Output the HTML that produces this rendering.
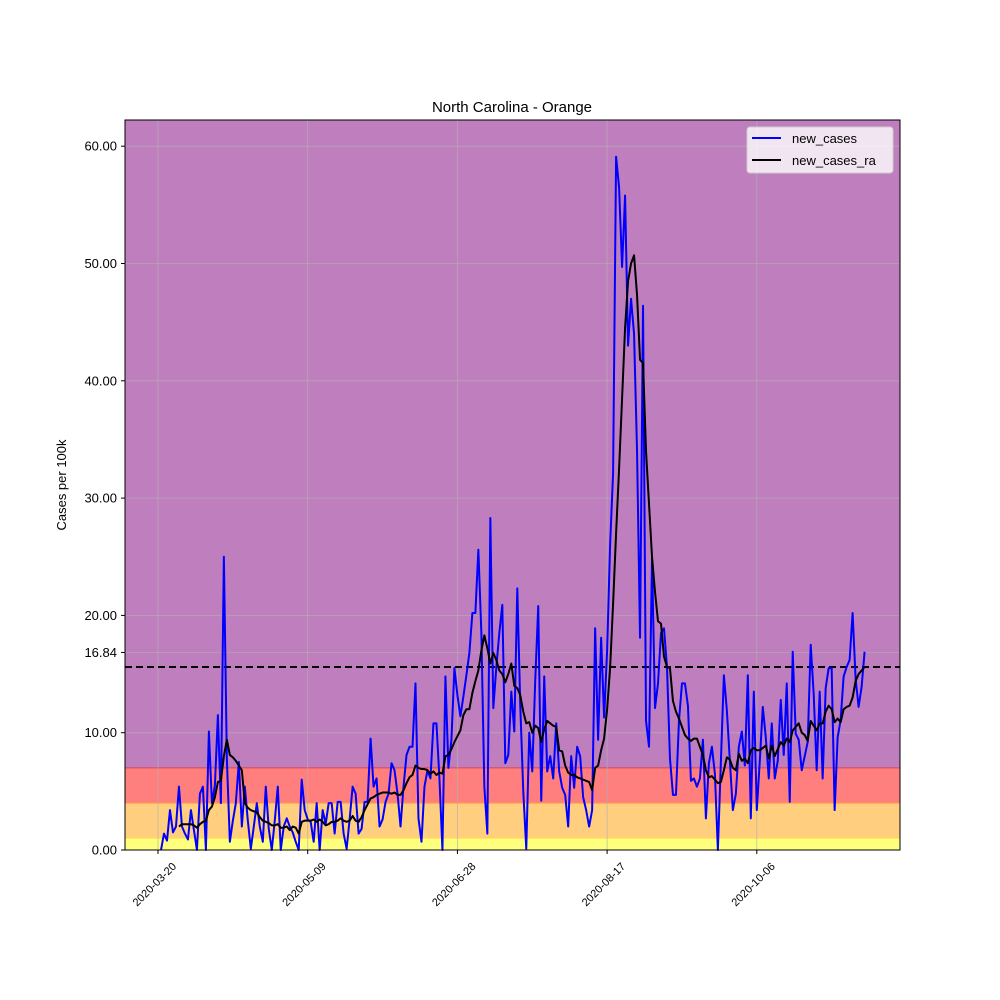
<!DOCTYPE html>
<html><head><meta charset="utf-8"><style>
html,body{margin:0;padding:0;background:#fff;}
svg{display:block;font-family:"Liberation Sans","DejaVu Sans",sans-serif;}
</style></head><body>
<svg id="chart" width="1000" height="1000" viewBox="0 0 1000 1000">
<rect x="0" y="0" width="1000" height="1000" fill="#fff"/>
<g id="bands"></g>
<g id="grid"></g>
<g id="series"></g>
<g id="axes"></g>
<text x="512" y="112" text-anchor="middle" font-size="15" fill="#000">North Carolina - Orange</text>
<text transform="translate(66,485) rotate(-90)" text-anchor="middle" font-size="13" fill="#000">Cases per 100k</text>
<g>
<rect x="747" y="127" width="146" height="46" rx="3" fill="#fff" fill-opacity="0.8" stroke="#ccc"/>
<line x1="752" y1="138" x2="781" y2="138" stroke="#0000ff" stroke-width="2"/>
<text x="792" y="143" font-size="13">new_cases</text>
<line x1="752" y1="160" x2="781" y2="160" stroke="#000" stroke-width="2"/>
<text x="792" y="165" font-size="13">new_cases_ra</text>
</g>
</svg>
<script>
const startDate = "2020-03-21";
const newCases = [0,1.4,0.8,3.4,1.5,2,5.4,2,1.4,0.9,3.4,1.7,0,4.8,5.4,0,10.1,4,5.5,11.5,4,25,7.7,0.7,2.5,4,7.5,2,5.4,2.5,0.1,2,4,2,0.7,5.4,1.8,0,2.5,5.4,0,2,2.7,2,1.5,0.7,0,6,3.4,2.6,2.4,0.7,4,0,3.4,2.2,4,
4.0,1.4,4.1,4.1,1.4,0.1,2.6,5.4,4.8,1.4,1.8,4.1,4.1,9.5,5.4,6.1,2.0,2.6,4.1,4.8,7.4,6.8,4.8,2.0,5.4,8.1,8.8,8.8,14.2,2.7,0.7,5.4,6.8,6.1,10.8,10.8,6.1,0,14.8,7.0,9.4,15.5,13.2,11.4,13.1,14.9,16.8,20.2,20.2,25.6,18.5,5.4,1.4,28.3,12.1,15.6,18.5,20.9,7.4,8.1,13.5,10.1,22.3,
12.3,5,0.1,10,6.7,14.5,20.8,4.2,14.8,6.7,8.0,6.1,10.8,6.7,5.3,4.7,2.0,8.0,5.3,8.8,8.0,4.5,3.4,2.0,3.4,18.9,9.4,18.1,11.3,17,26,32.1,59.1,56.5,49.7,55.8,43.0,47.0,44,34,18.1,46.4,11.0,8.8,24.9,12.1,14.2,18.5,18.9,15.6,7.8,4.7,4.7,11.0,14.2,14.2,12.3,5.9,6.1,
5.4,6.1,9.4,2.7,7.4,8.8,6.5,0,7.5,
14.9,11.9,7.6,3.4,4.8,8.8,10.1,7.2,14.9,2.7,13.5,3.4,7.6,12.2,9.6,6.1,10.8,6.1,7.6,12.8,8.1,14.2,4.1,16.9,9.9,9.4,6.8,8.0,9.2,17.5,13.3,6.8,13.5,6.1,13.8,15.5,15.5,3.4,9.6,11.1,14.8,15.6,16.2,20.2,14.6,12.2,13.9,16.9];
const newCasesRa = [null,null,null,null,null,null,
2.0,2.2,2.2,2.2,2.2,2.1,1.9,2.2,2.4,2.5,3.4,3.7,4.5,5.8,5.9,8.0,9.4,8.1,7.9,7.6,7.2,6.8,4.0,3.6,3.4,3.3,3.2,2.8,2.5,2.4,2.3,2.1,2.1,2.2,1.9,1.9,2.0,1.7,2.0,1.9,1.4,2.4,2.5,2.5,2.5,2.6,2.4,2.6,2.4,2.1,2.2,
2.4,2.4,2.5,2.7,2.5,2.4,2.5,2.9,2.5,2.4,2.8,3.4,3.9,4.4,4.5,4.7,4.8,4.9,4.9,4.9,4.8,4.9,4.7,4.7,5.1,5.7,6.2,6.4,7.2,7.0,6.9,6.9,6.8,6.5,6.7,6.4,6.6,6.5,8.0,8.1,8.6,9.2,9.7,10.2,11.5,12.0,12.0,13.4,14.4,15.3,17.0,18.3,17.2,15.9,16.8,16.2,15.3,15.0,14.3,15.0,15.9,14.0,13.8,
13.2,11.8,10.8,10.9,10.0,10.6,10.4,9.2,10.3,11.0,10.8,10.6,10.5,8.5,8.4,7.2,6.6,6.4,6.4,6.2,6.1,6.0,5.9,5.8,5.1,7.0,7.2,8.5,9.5,12.0,15.5,21.0,27.0,32.5,38.5,44.5,48.5,50.0,50.7,47.3,41.8,41.5,34.0,29.5,25.0,22.0,19.5,19.3,16.5,15.6,15.5,12.7,11.8,11.2,10.5,9.8,9.5,9.3,9.5,
9.5,8.8,8.1,6.8,6.2,6.3,6.0,5.7,5.8,6.8,7.9,7.7,7.0,6.8,8.2,7.6,7.8,7.4,8.5,8.7,8.5,8.5,8.7,8.9,7.8,8.9,8.0,8.6,9.2,8.9,9.5,9.2,10.2,10.5,10.8,10.0,9.8,9.3,11.0,10.6,10.2,10.8,10.8,11.8,12.3,12.0,10.9,11.2,10.9,12.0,12.2,12.3,13.0,14.4,15.0,15.3,15.6];
const yTicks = [0,10,20,30,40,50,60,16.84];
const xTickLabels = ["2020-03-20","2020-05-09","2020-06-28","2020-08-17","2020-10-06"];
const bandEdges = [0,1,4,7,62.3];
const bandColors = ["#ffff7f","#ffcf7f","#ff7f7f","#bf7fbf"];
const thresholdValue = 15.6;

const NS="http://www.w3.org/2000/svg";
const PL=125,PR=900,PT=120,PB=850;
const Y0=850, YPER=11.73;
const yScale=v=>Y0-v*YPER;
const DAY=86400000, t0=Date.parse(startDate+"T00:00:00Z");
const xScale=d=>161+2.994*d;
const dayOf=s=>(Date.parse(s+"T00:00:00Z")-t0)/DAY;
function mk(tag,attrs,parent){const e=document.createElementNS(NS,tag);for(const k in attrs)e.setAttribute(k,attrs[k]);parent.appendChild(e);return e;}
const bands=document.getElementById('bands'),grid=document.getElementById('grid'),series=document.getElementById('series'),axes=document.getElementById('axes');
for(let i=0;i<bandColors.length;i++){
  const y1=Math.max(PT,yScale(bandEdges[i+1])),y2=yScale(bandEdges[i]);
  const r=mk('rect',{x:PL,y:y1,width:PR-PL,height:y2-y1,fill:bandColors[i]},bands);
  
  
}
mk('line',{x1:PL,x2:PR,y1:yScale(7),y2:yScale(7),stroke:'#e0404f','stroke-width':1},bands);
mk('line',{x1:PL,x2:PR,y1:yScale(4),y2:yScale(4),stroke:'#ffa040','stroke-width':1},bands);
mk('line',{x1:PL,x2:PR,y1:yScale(1),y2:yScale(1),stroke:'#ffe040','stroke-width':1},bands);
yTicks.forEach(v=>{
  const y=yScale(v);
  const g=mk('line',{x1:PL,x2:PR,y1:y,y2:y,stroke:'#b0b0b0','stroke-width':0.8,'stroke-opacity':0.8},grid);
  
  
  mk('line',{x1:PL-4,x2:PL,y1:y,y2:y,stroke:'#000','stroke-width':1},axes);
  const t=mk('text',{x:PL-8,y:y+4.5,'text-anchor':'end','font-size':13},axes);
  t.textContent=v.toFixed(2);
  
  
});
xTickLabels.forEach(s=>{
  const x=xScale(dayOf(s));
  const g=mk('line',{x1:x,x2:x,y1:PT,y2:PB,stroke:'#b0b0b0','stroke-width':0.8,'stroke-opacity':0.8},grid);
  
  
  mk('line',{x1:x,x2:x,y1:PB,y2:PB+4,stroke:'#000','stroke-width':1},axes);
  const t=mk('text',{transform:`translate(${x-1},${PB+37}) rotate(-45)`,'text-anchor':'middle','font-size':11},axes);
  t.textContent=s;
  
  
});
function linePath(arr){let d='',pen=false;arr.forEach((v,i)=>{if(v==null){pen=false;return;}d+=(pen?'L':'M')+xScale(i).toFixed(2)+','+yScale(v).toFixed(2);pen=true;});return d;}
const th=mk('line',{x1:PL,x2:PR,y1:yScale(thresholdValue),y2:yScale(thresholdValue),stroke:'#000','stroke-width':2,'stroke-dasharray':'7,4'},series);


const p1=mk('path',{d:linePath(newCases),fill:'none',stroke:'#0000ff','stroke-width':2,'stroke-linejoin':'round'},series);


const p2=mk('path',{d:linePath(newCasesRa),fill:'none',stroke:'#000','stroke-width':2,'stroke-linejoin':'round'},series);


const fr=mk('rect',{x:PL,y:PT,width:PR-PL,height:PB-PT,fill:'none',stroke:'#000','stroke-width':1},axes);


</script>
</body></html>
